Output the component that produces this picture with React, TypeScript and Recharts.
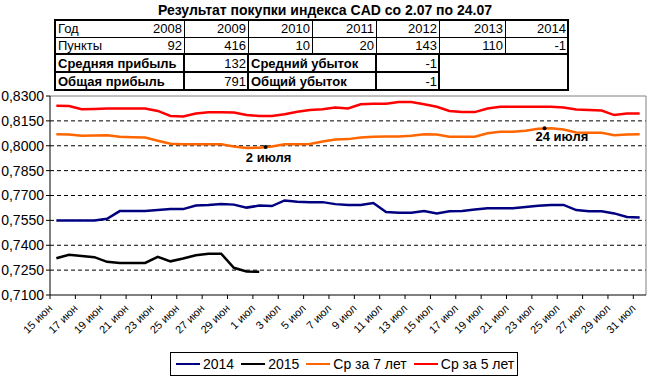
import React from "react";
import { LineChart, Line, XAxis, YAxis, CartesianGrid, ReferenceLine, ReferenceDot } from "recharts";

// days on the axis: 15 Jun .. 31 Jul
const days = [
  "15 июн", "16 июн", "17 июн", "18 июн", "19 июн", "20 июн", "21 июн", "22 июн",
  "23 июн", "24 июн", "25 июн", "26 июн", "27 июн", "28 июн", "29 июн", "30 июн",
  "1 июл", "2 июл", "3 июл", "4 июл", "5 июл", "6 июл", "7 июл", "8 июл",
  "9 июл", "10 июл", "11 июл", "12 июл", "13 июл", "14 июл", "15 июл", "16 июл",
  "17 июл", "18 июл", "19 июл", "20 июл", "21 июл", "22 июл", "23 июл", "24 июл",
  "25 июл", "26 июл", "27 июл", "28 июл", "29 июл", "30 июл", "31 июл",
];

const y2014 = [
  0.755, 0.755, 0.755, 0.755, 0.756, 0.7606, 0.7606, 0.7606, 0.7612, 0.7618,
  0.7618, 0.764, 0.7643, 0.7649, 0.7645, 0.7627, 0.7639, 0.7636, 0.767, 0.7662,
  0.766, 0.766, 0.7648, 0.7643, 0.7643, 0.7655, 0.76, 0.7596, 0.7596, 0.7606,
  0.7592, 0.7605, 0.7606, 0.7615, 0.7623, 0.7623, 0.7623, 0.763, 0.7638, 0.7643,
  0.7643, 0.7612, 0.7605, 0.7605, 0.7592, 0.757, 0.7567,
];

const y2015 = [
  0.7322, 0.7343, 0.7335, 0.7328, 0.73, 0.7293, 0.7293, 0.7293, 0.733, 0.7303,
  0.732, 0.734, 0.7349, 0.7349, 0.7264, 0.7242, 0.724,
];

const avg7 = [
  0.807, 0.8068, 0.806, 0.8062, 0.8064, 0.8055, 0.8052, 0.805, 0.803, 0.8012,
  0.8009, 0.8009, 0.8009, 0.8009, 0.7995, 0.7987, 0.7988, 0.7995, 0.8009, 0.8009,
  0.801, 0.8025, 0.8038, 0.804, 0.805, 0.8055, 0.8056, 0.8056, 0.806, 0.807,
  0.8068, 0.8054, 0.8054, 0.8054, 0.8075, 0.8084, 0.8084, 0.809, 0.8102, 0.8105,
  0.8098, 0.808, 0.8078, 0.8078, 0.8064, 0.8068, 0.807,
];

const avg5 = [
  0.8241, 0.824, 0.822, 0.8222, 0.8224, 0.8224, 0.8224, 0.8224, 0.821, 0.818,
  0.8176, 0.8195, 0.8202, 0.8202, 0.82, 0.8185, 0.818, 0.818, 0.819, 0.8205,
  0.8215, 0.822, 0.823, 0.8225, 0.825, 0.8254, 0.8254, 0.8264, 0.8264, 0.825,
  0.8235, 0.821, 0.8203, 0.8203, 0.8225, 0.8235, 0.8235, 0.8235, 0.8235, 0.8235,
  0.823, 0.8218, 0.8215, 0.8212, 0.8185, 0.8195, 0.8195,
];

const yTicks = [0.71, 0.725, 0.74, 0.755, 0.77, 0.785, 0.8, 0.815, 0.83];

const tableYears = ["2008", "2009", "2010", "2011", "2012", "2013", "2014"];
const tablePoints = [92, 416, 10, 20, 143, 110, -1];
const avgProfit = 132;
const totalProfit = 791;
const avgLoss = -1;
const totalLoss = -1;

const series = [
  { key: "y2014", name: "2014", color: "#000080" },
  { key: "y2015", name: "2015", color: "#000000" },
  { key: "avg7", name: "Ср за 7 лет", color: "#FF6600" },
  { key: "avg5", name: "Ср за 5 лет", color: "#FF0000" },
];

// marked dates on the 7-year average line
const notes = [
  { day: 17, value: 0.7993, text: "2 июля", dx: 3, dy: 15, anchor: "middle" },
  { day: 39, value: 0.8105, text: "24 июля", dx: -9, dy: 13, anchor: "start" },
];

const data = days.map((d, i) => ({
  x: i + 0.5,
  y2014: y2014[i],
  y2015: i < y2015.length ? y2015[i] : null,
  avg7: avg7[i],
  avg5: avg5[i],
}));

const xTicks = days.map((_, i) => i).filter((i) => i % 2 === 0);

const FONT = "'Liberation Sans', Arial, sans-serif";

const XTick = ({ x, y, payload }: any) => {
  const px = x + 3;
  const py = y + 10;
  return (
    <text x={px} y={py} transform={`rotate(-45 ${px} ${py})`} textAnchor="end" fontSize={11} fill="#000">
      {days[payload.value]}
    </text>
  );
};

const Note = (n: any) => (props: any) => (
  <g>
    <circle cx={props.cx} cy={props.cy} r={2} fill="#000" />
    <text x={props.cx + n.dx} y={props.cy + n.dy} textAnchor={n.anchor} fontSize={13} fontWeight="bold" fill="#000">
      {n.text}
    </text>
  </g>
);

function Table() {
  const edges = [55, 184, 248, 312, 376, 439, 505, 568];
  const thin = { stroke: "#000", strokeWidth: 1 };
  const thick = { stroke: "#000", strokeWidth: 2 };
  return (
    <svg width={650} height={96} style={{ position: "absolute", left: 0, top: 0, fontFamily: FONT }}>
      <text x={325} y={15} textAnchor="middle" fontSize={14} fontWeight="bold">
        Результат покупки индекса CAD со 2.07 по 24.07
      </text>
      {/* grid of the table */}
      <line x1={55} x2={568} y1={20} y2={20} {...thick} />
      <line x1={55} x2={568} y1={37.5} y2={37.5} {...thin} />
      <line x1={55} x2={568} y1={54} y2={54} {...thick} />
      <line x1={55} x2={439} y1={72} y2={72} {...thick} />
      <line x1={55} x2={568} y1={90} y2={90} {...thick} />
      <line x1={55} x2={55} y1={19} y2={91} {...thick} />
      <line x1={568} x2={568} y1={19} y2={91} {...thick} />
      {edges.slice(1, 7).map((e) => (
        <line key={e} x1={e + 0.5} x2={e + 0.5} y1={20} y2={54} {...thin} />
      ))}
      {[184, 248, 376, 439].map((e) => (
        <line key={"b" + e} x1={e} x2={e} y1={54} y2={90} {...thick} />
      ))}
      <g fontSize={13}>
        <text x={58} y={33}>Год</text>
        <text x={58} y={50}>Пункты</text>
        {tableYears.map((yr, i) => (
          <text key={yr} x={edges[i + 1] - 2} y={33} textAnchor="end">{yr}</text>
        ))}
        {tablePoints.map((p, i) => (
          <text key={i} x={edges[i + 1] - 2} y={50} textAnchor="end">{p}</text>
        ))}
        <text x={58} y={68} fontWeight="bold">Средняя прибыль</text>
        <text x={246} y={68} textAnchor="end">{avgProfit}</text>
        <text x={251} y={68} fontWeight="bold">Средний убыток</text>
        <text x={437} y={68} textAnchor="end">{avgLoss}</text>
        <text x={58} y={86} fontWeight="bold">Общая прибыль</text>
        <text x={246} y={86} textAnchor="end">{totalProfit}</text>
        <text x={251} y={86} fontWeight="bold">Общий убыток</text>
        <text x={437} y={86} textAnchor="end">{totalLoss}</text>
      </g>
    </svg>
  );
}

function LegendBox() {
  return (
    <div
      style={{
        position: "absolute",
        left: 170,
        top: 352,
        width: 348,
        height: 24,
        border: "1px solid #000",
        display: "flex",
        alignItems: "center",
        fontSize: 14,
        paddingLeft: 5,
        boxSizing: "border-box",
        whiteSpace: "nowrap",
        overflow: "hidden",
      }}
    >
      {series.map((s) => (
        <div key={s.key} style={{ display: "flex", alignItems: "center", marginRight: 7, flexShrink: 0 }}>
          <div style={{ width: 24, height: 2, background: s.color, marginRight: 3 }} />
          <span>{s.name}</span>
        </div>
      ))}
    </div>
  );
}

export default function App() {
  return (
    <div style={{ position: "absolute", left: 0, top: 0, width: 650, height: 382, background: "#fff", fontFamily: FONT }}>
      <Table />
      <LineChart
        width={650}
        height={382}
        data={data}
        margin={{ top: 96, right: 4, bottom: 37, left: 0 }}
        style={{ position: "absolute", left: 0, top: 0 }}
      >
        <CartesianGrid
          vertical={false}
          stroke="#000"
          strokeDasharray="4 3"
          horizontalValues={yTicks.slice(1, -1)}
        />
        <ReferenceLine y={0.83} stroke="#808080" />
        <ReferenceLine x={47} stroke="#808080" />
        <XAxis
          type="number"
          dataKey="x"
          domain={[0, 47]}
          ticks={xTicks}
          interval={0}
          tick={<XTick />}
          tickSize={4}
          tickMargin={0}
          height={50}
          stroke="#000"
        />
        <YAxis
          type="number"
          domain={[0.71, 0.83]}
          ticks={yTicks}
          interval={0}
          width={50}
          tickSize={4}
          tickMargin={2}
          stroke="#000"
          tick={{ fill: "#000", fontSize: 14 }}
          tickFormatter={(v: number) => v.toFixed(4).replace(".", ",")}
        />
        {series.map((s) => (
          <Line
            key={s.key}
            type="linear"
            dataKey={s.key}
            name={s.name}
            stroke={s.color}
            strokeWidth={2.5}
            dot={false}
            isAnimationActive={false}
          />
        ))}
        {notes.map((n) => (
          <ReferenceDot key={n.text} x={n.day} y={n.value} r={2} shape={Note(n)} />
        ))}
      </LineChart>
      <LegendBox />
    </div>
  );
}
